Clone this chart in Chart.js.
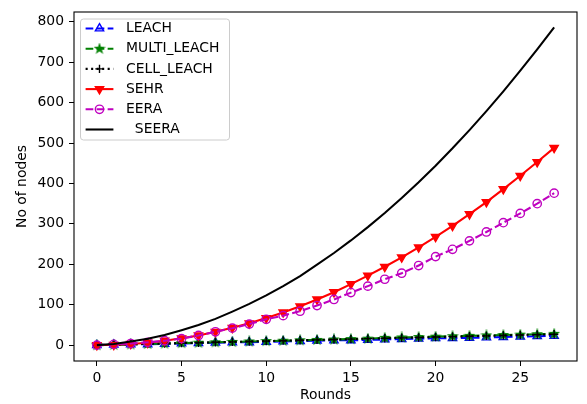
<!DOCTYPE html>
<html><head><meta charset="utf-8">
<script src="https://cdn.jsdelivr.net/npm/chart.js@4/dist/chart.umd.min.js"></script>
<style>html,body{margin:0;padding:0;background:#fff}#wrap{width:587px;height:404px;position:relative}</style>
</head><body><div id="wrap"><canvas id="c" width="587" height="404"></canvas></div>
<script>
const rounds = [0,1,2,3,4,5,6,7,8,9,10,11,12,13,14,15,16,17,18,19,20,21,22,23,24,25,26,27];
const leach = [0,1,2,2,3,4,5,6,7,7,8,9,10,11,12,12,13,14,15,16,17,17,18,19,20,21,22,23];
const multiLeach = [0,1,2,3,4,5,6,7,8,9,10,11,12,13,14,15,16,18,19,20,21,22,23,24,25,26,27,28];
const cellLeach = [0,1,2,3,4,5,6,7,8,9,10,11,12,13,14,15,16,17,18,19,20,21,22,23,24,25,26,27];
const sehr = [0,1,3,6,11,17,24,33,43,54,67,81,96,113,131,151,172,194,217,242,268,295,324,354,386,419,453,488];
const eera = [0,2,4,7,11,16,24,33,42,52,64,73,84,98,113,130,146,163,178,197,219,237,258,280,303,326,350,376];
const seera = [0,3,9,16,25,37,50,65,83,102,123,146,171,199,228,259,292,327,364,403,444,487,532,579,628,679,732,786];
const seriesLabels = ['LEACH','MULTI_LEACH','CELL_LEACH','SEHR','EERA','  SEERA'];
const xTickValues = [0,5,10,15,20,25];
const yTickValues = [0,100,200,300,400,500,600,700,800];

const FONT = 'DejaVu Sans';
const FS = 13.9;
const LW = 2.08;
const DASHED = [7.7, 3.33];
const DOTTED = [2.08, 3.43];

function starImage(color){
  const c = document.createElement('canvas'); c.width = 12; c.height = 12;
  const g = c.getContext('2d');
  g.beginPath();
  for (let i = 0; i < 10; i++) {
    const r = i % 2 ? 4.17 * 0.382 : 4.17;
    const a = -Math.PI / 2 + i * Math.PI / 5;
    g.lineTo(6 + r * Math.cos(a), 6 + r * Math.sin(a));
  }
  g.closePath();
  g.fillStyle = color; g.fill();
  g.lineWidth = 1.39; g.strokeStyle = color; g.stroke();
  return c;
}
const starImg = starImage('#008000');
const pts = arr => rounds.map((x, i) => ({x: x, y: arr[i]}));

const datasets = [
  {label: seriesLabels[0], data: pts(leach), borderColor: '#0000ff', borderWidth: LW, borderDash: DASHED,
   pointStyle: 'triangle', pointRadius: 4.8, pointBorderColor: '#0000ff', pointBackgroundColor: 'rgba(0,0,0,0)', pointBorderWidth: 1.39, order: 6},
  {label: seriesLabels[1], data: pts(multiLeach), borderColor: '#008000', borderWidth: LW, borderDash: DASHED,
   pointStyle: starImg, pointRadius: 5, pointBorderColor: '#008000', pointBackgroundColor: '#008000', pointBorderWidth: 1.39, order: 5},
  {label: seriesLabels[2], data: pts(cellLeach), borderColor: '#000000', borderWidth: LW, borderDash: DOTTED,
   pointStyle: 'cross', pointRadius: 4.17, pointBorderColor: '#000000', pointBackgroundColor: '#000000', pointBorderWidth: 1.39, order: 4},
  {label: seriesLabels[3], data: pts(sehr), borderColor: '#ff0000', borderWidth: LW, borderDash: [],
   pointStyle: 'triangle', pointRotation: 180, pointRadius: 4.8, pointBorderColor: '#ff0000', pointBackgroundColor: '#ff0000', pointBorderWidth: 1.39, order: 3},
  {label: seriesLabels[4], data: pts(eera), borderColor: '#bf00bf', borderWidth: LW, borderDash: DASHED,
   pointStyle: 'circle', pointRadius: 4.17, pointBorderColor: '#bf00bf', pointBackgroundColor: 'rgba(0,0,0,0)', pointBorderWidth: 1.39, order: 2},
  {label: seriesLabels[5], data: pts(seera), borderColor: '#000000', borderWidth: LW, borderDash: [],
   pointRadius: 0, order: 1}
];
datasets.forEach(d => { d.tension = 0; d.fill = false; });

function roundRect(ctx, x, y, w, h, r){
  ctx.beginPath();
  ctx.moveTo(x + r, y);
  ctx.lineTo(x + w - r, y); ctx.arcTo(x + w, y, x + w, y + r, r);
  ctx.lineTo(x + w, y + h - r); ctx.arcTo(x + w, y + h, x + w - r, y + h, r);
  ctx.lineTo(x + r, y + h); ctx.arcTo(x, y + h, x, y + h - r, r);
  ctx.lineTo(x, y + r); ctx.arcTo(x, y, x + r, y, r);
  ctx.closePath();
}

const mplPlugin = {
  id: 'mplLook',
  afterDraw(chart){
    const ctx = chart.ctx, a = chart.chartArea;
    ctx.save();
    ctx.strokeStyle = '#000'; ctx.lineWidth = 1.1; ctx.setLineDash([]);
    ctx.strokeRect(a.left, a.top, a.right - a.left, a.bottom - a.top);
    // legend
    const bx = a.left + 6, by = a.top + 6.5, bw = 149, bh = 121;
    roundRect(ctx, bx + 0.5, by + 0.5, bw, bh, 3);
    ctx.fillStyle = 'rgba(255,255,255,0.8)'; ctx.fill();
    ctx.strokeStyle = '#cccccc'; ctx.lineWidth = 1; ctx.stroke();
    const hx0 = bx + 5.6, hx1 = hx0 + 27.8, hc = (hx0 + hx1) / 2;
    ctx.font = FS + 'px "' + FONT + '"';
    ctx.textBaseline = 'middle'; ctx.textAlign = 'left';
    chart.data.datasets.forEach((d, i) => {
      const y = by + 10 + i * 20.2;
      ctx.save();
      ctx.strokeStyle = d.borderColor; ctx.lineWidth = d.borderWidth;
      ctx.setLineDash(d.borderDash || []);
      ctx.beginPath(); ctx.moveTo(hx0, y); ctx.lineTo(hx1, y); ctx.stroke();
      ctx.setLineDash([]);
      if (d.pointRadius > 0) {
        ctx.strokeStyle = d.pointBorderColor; ctx.fillStyle = d.pointBackgroundColor; ctx.lineWidth = d.pointBorderWidth;
        Chart.helpers.drawPoint(ctx, {pointStyle: d.pointStyle, radius: d.pointRadius, rotation: d.pointRotation || 0, borderWidth: d.pointBorderWidth}, hc, y);
      }
      ctx.restore();
      ctx.fillStyle = '#000';
      ctx.fillText(d.label, bx + 46, y);
    });
    ctx.restore();
  }
};

const tickFont = {family: FONT, size: FS};
new Chart(document.getElementById('c'), {
  type: 'line',
  data: {datasets: datasets},
  options: {
    responsive: false, animation: false, devicePixelRatio: 1,
    layout: {padding: {left: 1, right: 10, top: 12, bottom: 0}},
    plugins: {legend: {display: false}, tooltip: {enabled: false}},
    scales: {
      x: {
        type: 'linear', position: 'bottom', min: -1.35, max: 28.35,
        afterBuildTicks: s => { s.ticks = xTickValues.map(v => ({value: v})); },
        afterFit: s => { s.height = 43; s.paddingLeft = 0; s.paddingRight = 0; },
        ticks: {color: '#000', font: tickFont, padding: 4, maxRotation: 0, autoSkip: false},
        grid: {display: true, drawOnChartArea: false, drawTicks: true, tickLength: 5, color: '#000', lineWidth: 1},
        border: {display: false},
        title: {display: true, text: 'Rounds', color: '#000', font: tickFont, padding: {top: 0, bottom: 0}}
      },
      y: {
        type: 'linear', position: 'left', min: -39.25, max: 824.25,
        afterBuildTicks: s => { s.ticks = yTickValues.map(v => ({value: v})); },
        afterFit: s => { s.width = 73; s.paddingTop = 0; s.paddingBottom = 0; },
        ticks: {color: '#000', font: tickFont, padding: 5, autoSkip: false},
        grid: {display: true, drawOnChartArea: false, drawTicks: true, tickLength: 5, color: '#000', lineWidth: 1},
        border: {display: false},
        title: {display: true, text: 'No of nodes', color: '#000', font: tickFont, padding: {top: 13, bottom: 0}}
      }
    }
  },
  plugins: [mplPlugin]
});
</script>
</body></html>
